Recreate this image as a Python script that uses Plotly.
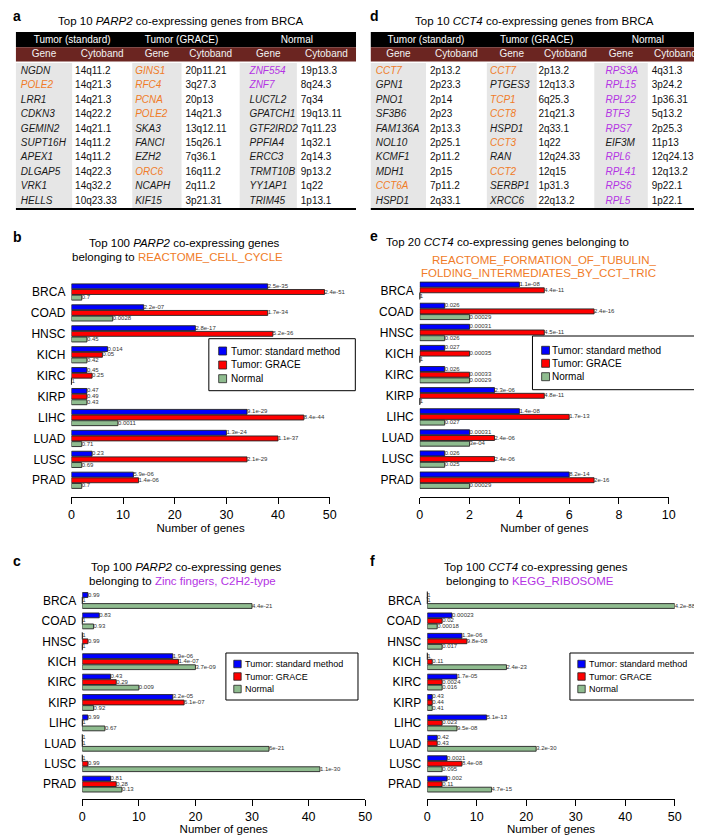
import plotly.graph_objects as go

W, H = 702, 836
FONT = "Liberation Sans, Arial, Helvetica, sans-serif"
ORANGE = "#f07c28"
PURPLE = "#b433e4"
BROWN = "#6b2521"
GRAY = "#e6e6e6"
BLUE, RED, GREEN = "#0000ff", "#ff0000", "#8fbc8f"
EDGE = "#222222"

# ---------------- data ----------------
cancers = ["BRCA", "COAD", "HNSC", "KICH", "KIRC", "KIRP", "LIHC", "LUAD", "LUSC", "PRAD"]
series_names = ["Tumor: standard method", "Tumor: GRACE", "Normal"]
group_names = ["Tumor (standard)", "Tumor (GRACE)", "Normal"]
column_names = ["Gene", "Cytoband"]

# Table a (PARP2, BRCA)
a_std_genes = ["NGDN", "POLE2", "LRR1", "CDKN3", "GEMIN2", "SUPT16H", "APEX1", "DLGAP5", "VRK1", "HELLS"]
a_std_cyto = ["14q11.2", "14q21.3", "14q21.3", "14q22.2", "14q21.1", "14q11.2", "14q11.2", "14q22.3", "14q32.2", "10q23.33"]
a_grace_genes = ["GINS1", "RFC4", "PCNA", "POLE2", "SKA3", "FANCI", "EZH2", "ORC6", "NCAPH", "KIF15"]
a_grace_cyto = ["20p11.21", "3q27.3", "20p13", "14q21.3", "13q12.11", "15q26.1", "7q36.1", "16q11.2", "2q11.2", "3p21.31"]
a_norm_genes = ["ZNF554", "ZNF7", "LUC7L2", "GPATCH1", "GTF2IRD2", "PPFIA4", "ERCC3", "TRMT10B", "YY1AP1", "TRIM45"]
a_norm_cyto = ["19p13.3", "8q24.3", "7q34", "19q13.11", "7q11.23", "1q32.1", "2q14.3", "9p13.2", "1q22", "1p13.1"]
a_cell_cycle_genes = ["POLE2", "GINS1", "RFC4", "PCNA", "ORC6"]
a_zinc_finger_genes = ["ZNF554", "ZNF7"]

# Table d (CCT4, BRCA)
d_std_genes = ["CCT7", "GPN1", "PNO1", "SF3B6", "FAM136A", "NOL10", "KCMF1", "MDH1", "CCT6A", "HSPD1"]
d_std_cyto = ["2p13.2", "2p23.3", "2p14", "2p23", "2p13.3", "2p25.1", "2p11.2", "2p15", "7p11.2", "2q33.1"]
d_grace_genes = ["CCT7", "PTGES3", "TCP1", "CCT8", "HSPD1", "CCT3", "RAN", "CCT2", "SERBP1", "XRCC6"]
d_grace_cyto = ["2p13.2", "12q13.3", "6q25.3", "21q21.3", "2q33.1", "1q22", "12q24.33", "12q15", "1p31.3", "22q13.2"]
d_norm_genes = ["RPS3A", "RPL15", "RPL22", "BTF3", "RPS7", "EIF3M", "RPL6", "RPL41", "RPS6", "RPL5"]
d_norm_cyto = ["4q31.3", "3p24.2", "1p36.31", "5q13.2", "2p25.3", "11p13", "12q24.13", "12q13.2", "9p22.1", "1p22.1"]
d_tubulin_genes = ["CCT7", "CCT6A", "TCP1", "CCT8", "CCT3", "CCT2"]
d_ribosome_genes = ["RPS3A", "RPL15", "RPL22", "BTF3", "RPS7", "RPL6", "RPL41", "RPS6", "RPL5"]

# Panel b: PARP2 / REACTOME_CELL_CYCLE
b_std = [38, 14, 24, 7, 3, 3, 34, 30, 4, 12]
b_grace = [49, 38, 39, 6, 4, 3, 45, 40, 34, 13]
b_norm = [2, 8, 3, 3, 0, 3, 9, 2, 2, 2]
b_p_std = ["2.5e-35", "2.2e-07", "2.8e-17", "0.014", "0.45", "0.47", "9.1e-29", "1.3e-24", "0.23", "5.9e-06"]
b_p_grace = ["2.4e-51", "1.7e-34", "5.2e-36", "0.05", "0.25", "0.49", "8.4e-44", "1.1e-37", "2.1e-29", "1.4e-06"]
b_p_norm = ["0.7", "0.0028", "0.45", "0.42", "1", "0.43", "0.0011", "0.71", "0.69", "0.7"]

# Panel c: PARP2 / Zinc fingers, C2H2-type
c_std = [1, 3, 0, 16, 5, 16, 1, 0, 0, 5]
c_grace = [0, 0, 1, 17, 6, 18, 0, 0, 1, 6]
c_norm = [30, 2, 0, 20, 10, 2, 4, 33, 42, 7]
c_p_std = ["0.99", "0.83", "1", "1.9e-06", "0.43", "3.2e-05", "0.99", "1", "1", "0.81"]
c_p_grace = ["1", "1", "0.99", "1.4e-07", "0.29", "6.1e-07", "1", "1", "0.99", "0.28"]
c_p_norm = ["4.4e-21", "0.93", "1", "3.7e-09", "0.009", "0.92", "0.67", "6e-21", "1.1e-30", "0.13"]

# Panel e: CCT4 / tubulin folding
e_std = [4, 1, 2, 1, 1, 3, 4, 2, 1, 6]
e_grace = [5, 7, 5, 2, 2, 5, 6, 3, 3, 7]
e_norm = [0, 2, 1, 0, 2, 0, 1, 2, 1, 2]
e_p_std = ["1.1e-08", "0.026", "0.00031", "0.027", "0.026", "2.3e-06", "1.4e-08", "0.00031", "0.026", "8.2e-14"]
e_p_grace = ["4.4e-11", "2.4e-16", "4.5e-11", "0.00035", "0.00033", "4.8e-11", "1.7e-13", "2.4e-06", "2.4e-06", "2e-16"]
e_p_norm = ["1", "0.00029", "0.026", "1", "0.00029", "1", "0.027", "3e-04", "0.025", "0.00029"]

# Panel f: CCT4 / KEGG_RIBOSOME
f_std = [0, 5, 7, 0, 6, 1, 12, 2, 4, 4]
f_grace = [0, 3, 8, 1, 3, 1, 3, 2, 7, 3]
f_norm = [50, 2, 3, 16, 3, 1, 6, 22, 3, 13]
f_p_std = ["1", "0.00023", "1.3e-06", "1", "1.7e-05", "0.43", "5.1e-13", "0.42", "0.0021", "0.002"]
f_p_grace = ["1", "0.02", "9.8e-08", "0.11", "0.0024", "0.44", "0.023", "0.43", "8.4e-08", "0.11"]
f_p_norm = ["4.2e-88", "0.00018", "0.017", "2.4e-23", "0.016", "0.41", "9.5e-08", "3.2e-30", "0.095", "4.7e-15"]

# ---------------- helpers ----------------
def px(p):
    return p / W


def py(p):
    return 1 - p / H


fig = go.Figure()
annotations = []
shapes = []
layout_axes = {}


def ann(text, x, y, size, xanchor="center", color="black"):
    annotations.append(dict(text=text, x=px(x), y=py(y), xref="paper", yref="paper",
                            xanchor=xanchor, yanchor="middle", showarrow=False,
                            font=dict(size=size, color=color, family=FONT)))


def rect(x0, y0, x1, y1, fill, line_color, lw, layer="above"):
    shapes.append(dict(type="rect", xref="paper", yref="paper", x0=px(x0), x1=px(x1),
                       y0=py(y1), y1=py(y0), fillcolor=fill,
                       line=dict(color=line_color, width=lw), layer=layer))


def gene_colors(genes, orange_set, purple_set):
    return [ORANGE if g in orange_set else PURPLE if g in purple_set else "#1a1a1a" for g in genes]


# table geometry (pixels)
T_TOP, T_HDR1, T_HDR2, T_ROW0, T_PITCH, T_BOTTOM = 24, 39.3, 53.5, 56.1, 14.44, 201


def add_table(k, edges, text_x, cols, orange_set, purple_set, title, title_x):
    xa, ya = "x%d" % k, "y%d" % k
    x0, x1 = edges[0], edges[-1]
    # backgrounds
    rect(x0, T_TOP, x1, T_HDR1, "black", "black", 0, "below")
    rect(x0, T_HDR1, x1, T_HDR2, BROWN, BROWN, 0, "below")
    for c in range(0, 6, 2):
        rect(edges[c], T_HDR2 + 1.5, edges[c + 1], T_BOTTOM, GRAY, GRAY, 0, "below")
    shapes.append(dict(type="line", xref="paper", yref="paper", x0=px(x0), x1=px(x1),
                       y0=py(T_BOTTOM), y1=py(T_BOTTOM), line=dict(color="black", width=2)))
    # header texts
    fig.add_trace(go.Scatter(x=[edges[2 * g + 1] for g in range(3)], y=[(T_TOP + T_HDR1) / 2 + 0.5] * 3,
                             text=group_names, mode="text", textposition="middle center",
                             textfont=dict(size=10, color="white", family=FONT),
                             xaxis=xa, yaxis=ya, showlegend=False, hoverinfo="skip", cliponaxis=False))
    fig.add_trace(go.Scatter(x=[(edges[c] + edges[c + 1]) / 2 for c in range(6)],
                             y=[(T_HDR1 + T_HDR2) / 2 + 0.5] * 6,
                             text=column_names * 3, mode="text", textposition="middle center",
                             textfont=dict(size=10, color="#f2f2f2", family=FONT),
                             xaxis=xa, yaxis=ya, showlegend=False, hoverinfo="skip", cliponaxis=False))
    # body
    for g, (genes, cyto) in enumerate(cols):
        rows_y = [T_ROW0 + T_PITCH * (r + 0.5) for r in range(len(genes))]
        fig.add_trace(go.Scatter(x=[text_x[2 * g]] * len(genes), y=rows_y, text=genes,
                                 mode="text", textposition="middle right",
                                 textfont=dict(size=10, color=gene_colors(genes, orange_set, purple_set),
                                               family=FONT, style="italic"),
                                 xaxis=xa, yaxis=ya, showlegend=False, hoverinfo="text", cliponaxis=False))
        fig.add_trace(go.Scatter(x=[text_x[2 * g + 1]] * len(cyto), y=rows_y, text=cyto,
                                 mode="text", textposition="middle right",
                                 textfont=dict(size=10, color="#111111", family=FONT),
                                 xaxis=xa, yaxis=ya, showlegend=False, hoverinfo="text", cliponaxis=False))
    layout_axes["xaxis%d" % k] = dict(domain=[px(x0), px(x1)], range=[x0, x1], anchor=ya, visible=False,
                                      fixedrange=True)
    layout_axes["yaxis%d" % k] = dict(domain=[py(T_BOTTOM), py(T_TOP)], range=[T_BOTTOM, T_TOP], anchor=xa,
                                      visible=False, fixedrange=True)
    ann(title, title_x, 13, 11.5)


add_table(5, [5, 62, 123, 173, 232, 290, 350], [10, 65, 126, 177, 242, 294],
          [(a_std_genes, a_std_cyto), (a_grace_genes, a_grace_cyto), (a_norm_genes, a_norm_cyto)],
          a_cell_cycle_genes, a_zinc_finger_genes,
          "Top 10 <i>PARP2</i> co-expressing genes from BRCA", 172)
add_table(6, [365, 421, 482.7, 533.3, 591.7, 646, 702], [370, 425, 486, 535, 603, 650],
          [(d_std_genes, d_std_cyto), (d_grace_genes, d_grace_cyto), (d_norm_genes, d_norm_cyto)],
          d_tubulin_genes, d_ribosome_genes,
          "Top 10 <i>CCT4</i> co-expressing genes from BRCA", 531)

OFFS = [-0.27, 0.0, 0.27]
COLS = [BLUE, RED, GREEN]


def add_bars(k, series, pvals, xdom, ydom_px, c0, step, xmax, xticks):
    xa, ya = "x%d" % k, "y%d" % k
    for s, (vals, pv) in enumerate(zip(series, pvals)):
        ys = [i + OFFS[s] for i in range(len(vals))]
        fig.add_trace(go.Bar(x=vals, y=ys, orientation="h", width=0.235, name=series_names[s],
                             marker=dict(color=COLS[s], line=dict(color=EDGE, width=0.9)),
                             xaxis=xa, yaxis=ya, showlegend=False, cliponaxis=False,
                             hoverinfo="x+name"))
        fig.add_trace(go.Scatter(x=vals, y=ys, mode="text", text=pv, textposition="middle right",
                                 textfont=dict(size=6, color="#333333", family=FONT),
                                 xaxis=xa, yaxis=ya, showlegend=False, cliponaxis=False,
                                 hoverinfo="skip"))
        zx = [v for v in vals if v == 0]
        zy = [y for v, y in zip(vals, ys) if v == 0]
        if zx:
            fig.add_trace(go.Scatter(x=zx, y=zy, mode="markers",
                                     marker=dict(symbol="line-ns", size=5, line=dict(width=1, color=EDGE)),
                                     xaxis=xa, yaxis=ya, showlegend=False, cliponaxis=False,
                                     hoverinfo="skip"))
    top_px, bot_px = ydom_px
    layout_axes["xaxis%d" % k] = dict(domain=[px(xdom[0]), px(xdom[1])], anchor=ya, range=[0, xmax],
                                      tickvals=xticks, showline=True, linecolor="black", linewidth=1,
                                      ticks="outside", ticklen=6, tickwidth=1, tickcolor="black",
                                      showgrid=False, zeroline=False,
                                      tickfont=dict(size=12.5, family=FONT, color="black"),
                                      title=dict(text="Number of genes",
                                                 font=dict(size=11.5, family=FONT, color="black"),
                                                 standoff=0))
    layout_axes["yaxis%d" % k] = dict(domain=[py(bot_px), py(top_px)], anchor=xa,
                                      range=[(bot_px - c0) / step, (top_px - c0) / step],
                                      tickvals=list(range(len(cancers))), ticktext=cancers,
                                      showline=False, showgrid=False, zeroline=False, ticks="",
                                      ticklabelstandoff=5,
                                      tickfont=dict(size=12, family=FONT, color="black"))


def add_legend(box, sw_x, sw, text_x, ys, size):
    rect(box[0], box[1], box[2], box[3], "white", "black", 1)
    for name, col, y in zip(series_names, COLS, ys):
        rect(sw_x, y - sw / 2, sw_x + sw, y + sw / 2, col, EDGE, 0.8)
        ann(name, text_x, y, size, xanchor="left")


add_bars(1, [b_std, b_grace, b_norm], [b_p_std, b_p_grace, b_p_norm],
         (61.3, 323.3), (268, 489), 284, 20.92, 50, [0, 10, 20, 30, 40, 50])
add_bars(2, [e_std, e_grace, e_norm], [e_p_std, e_p_grace, e_p_norm],
         (414.7, 667.3), (268, 489), 282.3, 21.1, 10, [0, 2, 4, 6, 8, 10])
add_bars(3, [c_std, c_grace, c_norm], [c_p_std, c_p_grace, c_p_norm],
         (72.3, 359.3), (582, 790.5), 592.5, 20.4, 50, [0, 10, 20, 30, 40, 50])
add_bars(4, [f_std, f_grace, f_norm], [f_p_std, f_p_grace, f_p_norm],
         (422.3, 673.3), (582, 790.5), 592.5, 20.4, 50, [0, 10, 20, 30, 40, 50])

add_legend((200.7, 330.7, 349.3, 382.7), 210.7, 8, 221, [343, 357, 370.7], 10)
add_legend((529, 328, 696.7, 381.7), 538.3, 8, 547, [342.3, 355.3, 368.7], 10)
add_legend((218, 645, 352, 692), 226, 7.5, 235.5, [656, 668.5, 681], 9)
add_legend((567, 645, 700, 692), 575, 7.5, 584.5, [656, 668.5, 681], 9)

# panel letters
for letter, x, y in [("a", 0, 8), ("d", 362, 8), ("b", 0, 229), ("e", 362, 228), ("c", 0, 553), ("f", 362, 553)]:
    ann("<b>%s</b>" % letter, x, y, 14, xanchor="left")

# panel titles
ann("Top 100 <i>PARP2</i> co-expressing genes", 176, 235, 11.5)
ann("belonging to <span style='color:%s'>REACTOME_CELL_CYCLE</span>" % ORANGE, 169, 248.5, 11.5)
ann("Top 20 <i>CCT4</i> co-expressing genes belonging to", 378, 234.3, 11.5, xanchor="left")
ann("REACTOME_FORMATION_OF_TUBULIN_", 541, 251.5, 11.5, color=ORANGE)
ann("FOLDING_INTERMEDIATES_BY_CCT_TRIC", 535.5, 265, 11.5, color=ORANGE)
ann("Top 100 <i>PARP2</i> co-expressing genes", 178, 559, 11.5)
ann("belonging to <span style='color:%s'>Zinc fingers, C2H2-type</span>" % PURPLE, 174, 572.7, 11.5)
ann("Top 100 <i>CCT4</i> co-expressing genes", 533, 559, 11.5)
ann("belonging to <span style='color:%s'>KEGG_RIBOSOME</span>" % PURPLE, 526, 572.7, 11.5)

fig.update_layout(width=W, height=H, margin=dict(l=0, r=0, t=0, b=0),
                  paper_bgcolor="white", plot_bgcolor="rgba(0,0,0,0)", barmode="overlay",
                  showlegend=False,
                  font=dict(family=FONT, color="black"),
                  annotations=annotations, shapes=shapes, **layout_axes)

fig.write_html("out.html")
